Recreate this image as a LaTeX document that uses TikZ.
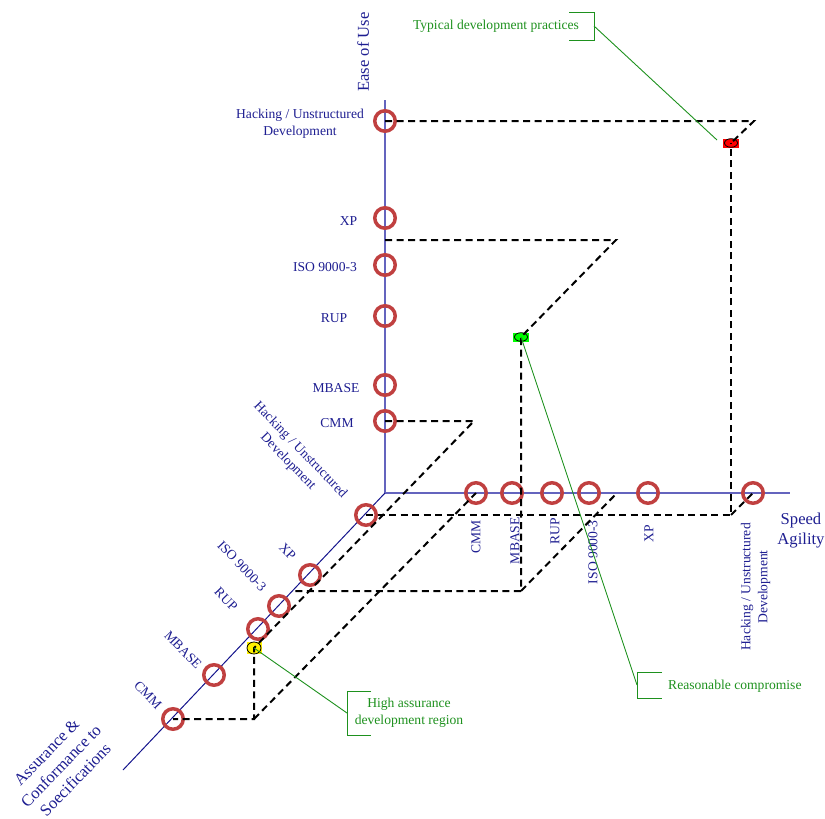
\documentclass[tikz,border=0pt]{standalone}
\usepackage{fontspec}
\setmainfont{Liberation Serif}
\usetikzlibrary{shapes.geometric}
\definecolor{ringred}{RGB}{192,64,64}
\definecolor{axisblue}{RGB}{100,100,190}
\definecolor{diagblue}{RGB}{20,20,140}
\definecolor{labelblue}{RGB}{30,30,145}
\definecolor{notegreen}{RGB}{30,145,30}
\begin{document}
\begin{tikzpicture}[x=1pt,y=-1pt,
  ring/.style={circle, draw=ringred, line width=3.5pt, minimum size=20.5pt, inner sep=0pt},
  lbl/.style={text=labelblue, font=\fontsize{13.6}{17}\selectfont, align=center, inner sep=0pt},
  axislbl/.style={text=labelblue, font=\fontsize{16.6}{20}\selectfont, align=center, inner sep=0pt},
  guide/.style={draw=black, line width=2pt, dash pattern=on 7pt off 4.5pt},
  note/.style={text=notegreen, font=\fontsize{13.6}{17}\selectfont, align=center, inner sep=0pt},
  noteline/.style={draw=notegreen, line width=0.9pt},
  dotbox/.style={minimum width=16pt, minimum height=9pt, inner sep=0pt, draw=none},
  dotrim/.style={draw=black, line width=0.8pt}
]
\useasboundingbox (0,0) rectangle (825,819);

% ---- axes ----
\coordinate (O) at (385,493);
\coordinate (vtop) at (385,100);
\coordinate (hend) at (790,493);
\coordinate (dend) at (123,770);
\draw[axisblue, line width=1.3pt] (vtop) -- (O) -- (hend);
\draw[diagblue, line width=1pt] (O) -- (dend);

% ---- axis titles ----
\node[axislbl, rotate=90] (tEase) at (363,52) {Ease of Use};
\node[axislbl] (tSpeed) at (801,531) {Speed\\Agility};
\node[axislbl, rotate=46] (tAssur) at (61,766) {Assurance \&\\Conformance to\\Soecifications};

% ---- vertical axis: ease of use ----
\node[ring] (vH) at (385,121) {};
\node[ring] (vX) at (385,218) {};
\node[ring] (vI) at (385,265) {};
\node[ring] (vR) at (385,316) {};
\node[ring] (vM) at (385,385) {};
\node[ring] (vC) at (385,421) {};
\node[lbl] (lvH) at (300,123.5) {Hacking / Unstructured\\Development};
\node[lbl] (lvX) at (348.5,221) {XP};
\node[lbl] (lvI) at (325,267) {ISO 9000-3};
\node[lbl] (lvR) at (334,318) {RUP};
\node[lbl] (lvM) at (336,388) {MBASE};
\node[lbl] (lvC) at (337,423) {CMM};

% ---- horizontal axis: speed / agility ----
\node[ring] (hC) at (476,493) {};
\node[ring] (hM) at (512,493) {};
\node[ring] (hR) at (552,493) {};
\node[ring] (hI) at (589,493) {};
\node[ring] (hX) at (648,493) {};
\node[ring] (hH) at (753,493) {};
\node[lbl, rotate=90, anchor=east] (lhC) at (476,520) {CMM};
\node[lbl, rotate=90, anchor=east] (lhM) at (515,517) {MBASE};
\node[lbl, rotate=90, anchor=east] (lhR) at (555,518) {RUP};
\node[lbl, rotate=90, anchor=east] (lhI) at (593,520) {ISO 9000-3};
\node[lbl, rotate=90, anchor=east] (lhX) at (649,525) {XP};
\node[lbl, rotate=90] (lhH) at (755.5,587) {Hacking / Unstructured\\Development};

% ---- diagonal axis: assurance ----
\node[ring] (dH) at (366,515) {};
\node[ring] (dX) at (310,575) {};
\node[ring] (dI) at (279,606) {};
\node[ring] (dR) at (258,629) {};
\node[ring] (dM) at (214,675) {};
\node[ring] (dC) at (173,719) {};
\node[lbl, rotate=-46] (ldH) at (294,456) {Hacking / Unstructured\\Development};
\node[lbl, rotate=-46] (ldX) at (287.5,551.5) {XP};
\node[lbl, rotate=-46] (ldI) at (242,566) {ISO 9000-3};
\node[lbl, rotate=-46] (ldR) at (226,599) {RUP};
\node[lbl, rotate=-46] (ldM) at (183,650) {MBASE};
\node[lbl, rotate=-46] (ldC) at (148,695) {CMM};

% ---- practice markers ----
\node[dotbox, fill=red] (red) at (731,143) {};
\draw[dotrim, fill=red] (red.center) ellipse [x radius=6.5pt, y radius=4.3pt];
\node[dotbox, fill=green] (green) at (521,337) {};
\draw[dotrim, fill=green] (green.center) ellipse [x radius=6.5pt, y radius=4.3pt];
\node[dotbox, fill=yellow, minimum width=15pt, minimum height=12pt] (yellow) at (254,648) {};
\draw[dotrim, fill=yellow] (yellow.center) ellipse [x radius=7pt, y radius=6pt];

% ---- projection guides: typical practices ----
\coordinate (rVH) at (754,121);
\coordinate (rDH) at (731,515);
\draw[guide] (vH.center) -- (rVH) -- (red.center);
\draw[guide] (dH.center) -- (rDH) -- (red.center);
\draw[guide] (rDH) -- (hH.center);

% ---- projection guides: reasonable compromise ----
\coordinate (gV) at (385,240);
\coordinate (gVH) at (616,240);
\coordinate (gDH) at (521,591);
\coordinate (gD) at (293,591);
\coordinate (gH) at (617,493);
\draw[guide] (gV) -- (gVH) -- (green.center) -- (gDH) -- (gD);
\draw[guide] (gDH) -- (gH);

% ---- projection guides: high assurance ----
\coordinate (yVH) at (474,421);
\coordinate (yDH) at (254,719);
\draw[guide] (vC.center) -- (yVH) -- (yellow.center) -- (yDH) -- (dC.center);
\draw[guide] (yDH) -- (hC.center);

% ---- callouts ----
\node[note] (nTyp) at (496,26) {Typical development practices};
\coordinate (tB1) at (569,12);
\coordinate (tB2) at (594,12);
\coordinate (tB3) at (594,40);
\coordinate (tB4) at (569,40);
\coordinate (tBm) at (594,26);
\coordinate (tEnd) at (717,140);
\draw[noteline] (tB1) -- (tB2) -- (tB3) -- (tB4);
\draw[noteline] (tBm) -- (tEnd);

\node[note, anchor=west] (nRes) at (668,686) {Reasonable compromise};
\coordinate (rB1) at (662,672);
\coordinate (rB2) at (637,672);
\coordinate (rB3) at (637,698);
\coordinate (rB4) at (662,698);
\coordinate (rBm) at (637,685);
\draw[noteline] (rB1) -- (rB2) -- (rB3) -- (rB4);
\draw[noteline] (green.center) -- (rBm);

\node[note] (nHigh) at (409,712.5) {High assurance\\development region};
\coordinate (hB1) at (371,691);
\coordinate (hB2) at (347,691);
\coordinate (hB3) at (347,735);
\coordinate (hB4) at (371,735);
\coordinate (hBm) at (347,713);
\draw[noteline] (hB1) -- (hB2) -- (hB3) -- (hB4);
\draw[noteline] (yellow.center) -- (hBm);
\end{tikzpicture}
\end{document}
